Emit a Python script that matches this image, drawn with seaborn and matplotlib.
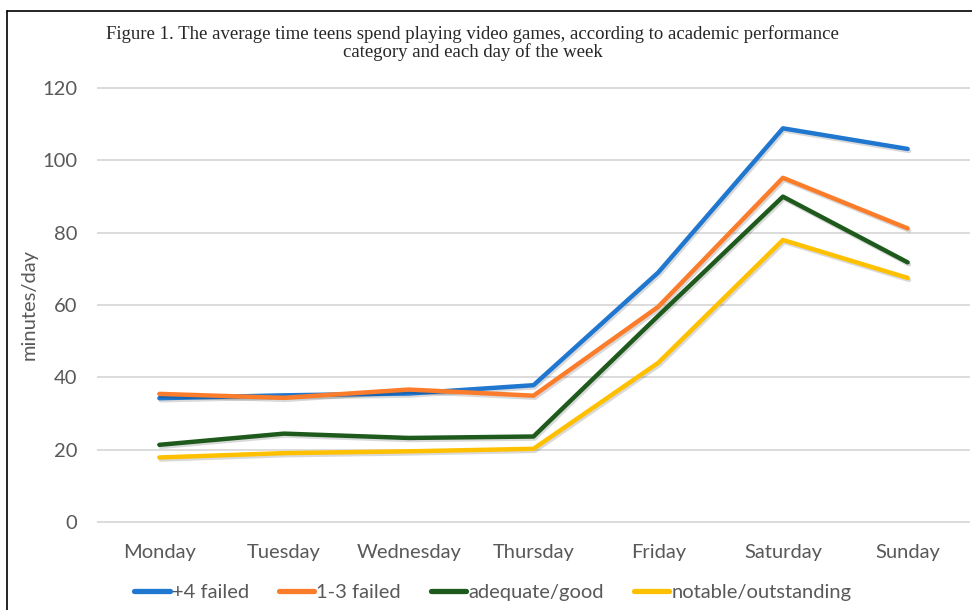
import seaborn as sns
import pandas as pd
import matplotlib.pyplot as plt
import matplotlib.patheffects as pe
from matplotlib.lines import Line2D

days = ['Monday', 'Tuesday', 'Wednesday', 'Thursday', 'Friday', 'Saturday', 'Sunday']
failed_4 = [34.2, 35.0, 35.5, 37.8, 69.0, 108.9, 103.2]
failed_1_3 = [35.4, 34.3, 36.6, 34.9, 59.5, 95.2, 81.2]
adequate_good = [21.3, 24.4, 23.2, 23.6, 57.0, 90.0, 71.8]
notable_outstanding = [17.8, 19.0, 19.5, 20.2, 44.0, 78.0, 67.5]

groups = ['+4 failed', '1-3 failed', 'adequate/good', 'notable/outstanding']
colors = ['#1f77cf', '#fb7d2c', '#1e5a1c', '#ffc000']

df = pd.DataFrame({'day': days, groups[0]: failed_4, groups[1]: failed_1_3,
                   groups[2]: adequate_good, groups[3]: notable_outstanding})
df = df.melt(id_vars='day', var_name='group', value_name='minutes')

sns.set_style('white')
plt.rcParams['font.family'] = ['Lato', 'DejaVu Sans']

fig = plt.figure(figsize=(9.72, 6.1), dpi=100)
ax = fig.add_axes([97 / 972, (610 - 529) / 610, 873 / 972, 448 / 610])

sns.lineplot(data=df, x='day', y='minutes', hue='group', palette=colors,
             linewidth=3.2, ax=ax, legend=False, sort=False,
             path_effects=[pe.SimpleLineShadow(offset=(1, -1.5), alpha=0.15), pe.Normal()])

ax.set_xlim(-0.5, 6.5)
ax.set_ylim(-2, 122)
ax.set_yticks([0, 20, 40, 60, 80, 100, 120])
ax.yaxis.grid(True, color='#d9d9d9', linewidth=1.3)
ax.set_axisbelow(True)
for s in ax.spines.values():
    s.set_visible(False)
ax.tick_params(axis='both', length=0, labelsize=14.5, labelcolor='#595959')
ax.tick_params(axis='y', pad=14)
ax.tick_params(axis='x', pad=11)
ax.set_xlabel('')
ax.set_ylabel('minutes/day', fontsize=14.5, color='#595959')
ax.yaxis.set_label_coords(-0.068, 0.5)

handles = [Line2D([], [], color=c, linewidth=3.8, solid_capstyle='round') for c in colors]
fig.legend(handles, groups, loc='center', bbox_to_anchor=(0.507, 0.028), ncol=4,
           frameon=False, fontsize=14.5, labelcolor='#595959', handlelength=1.75,
           handletextpad=0.1, columnspacing=1.5)

fig.text(0.486, 0.958,
         'Figure 1. The average time teens spend playing video games, according to academic performance\n'
         'category and each day of the week',
         ha='center', va='top', fontsize=13.5, family='Liberation Serif', linespacing=1.0)

# page border visible at the left and top edges
fig.add_artist(Line2D([7 / 972, 7 / 972], [0, 1 - 11 / 610], color='black', linewidth=1.2))
fig.add_artist(Line2D([7 / 972, 1], [1 - 11 / 610, 1 - 11 / 610], color='black', linewidth=1.2))

fig.savefig('out.png', dpi=100)
